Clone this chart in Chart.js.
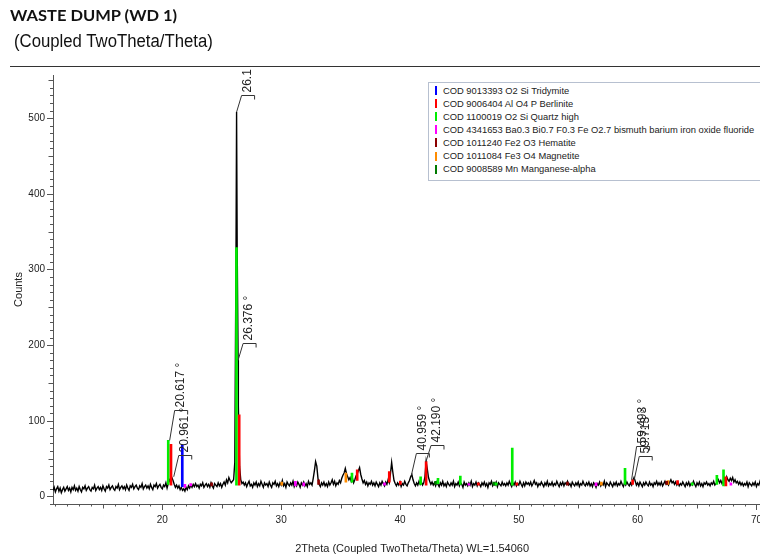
<!DOCTYPE html>
<html><head><meta charset="utf-8">
<script src="https://cdn.jsdelivr.net/npm/chart.js@4.4.0/dist/chart.umd.min.js"></script>
<style>
html,body{margin:0;padding:0;background:#fff;overflow:hidden;width:760px;height:559px;}
#wrap{position:relative;width:760px;height:559px;overflow:hidden;}
canvas{position:absolute;left:0;top:0;}
.t1{position:absolute;left:10px;top:8px;font:bold 15px Lato,'Open Sans',sans-serif;line-height:15px;color:#111;transform:scaleX(1.1);transform-origin:0 0;white-space:nowrap}
.t2{position:absolute;left:14px;top:32px;font:18px 'Liberation Sans',Arial,sans-serif;line-height:18px;color:#111;transform:scaleX(.93);transform-origin:0 0;white-space:nowrap}
.rule{position:absolute;left:10px;top:66px;width:760px;height:0;border-top:1.5px solid #333}
#legend{position:absolute;left:428px;top:82px;width:345px;height:99px;border:1px solid #b7c0d0;background:#fff;box-sizing:border-box;}
.li{position:absolute;left:14px;font:9.35px 'Liberation Sans',Arial,sans-serif;color:#222;white-space:nowrap;line-height:12px;height:12px}
.sw{position:absolute;left:-8.5px;top:1.5px;width:2.5px;height:9px}
</style></head>
<body>
<div id="wrap">
<canvas id="c" width="772" height="559" style="width:772px;height:559px"></canvas>
<div class="t1">WASTE DUMP (WD 1)</div>
<div class="t2">(Coupled TwoTheta/Theta)</div>
<div class="rule"></div>
<div id="legend"></div>
</div>
<script>
// ---- data ----
const xTickValues = [20, 30, 40, 50, 60, 70];
const yTickValues = [0, 100, 200, 300, 400, 500];

// measured pattern: counts on a 0.1 deg grid starting at 10.8 deg (one row = 1 deg)
const bgStart = 10.8, bgStep = 0.1;
const bgCounts = [
  8, 12, 6, 10, 13, 7, 11, 5, 9, 12,        // 10.8
  7, 10, 13, 8, 11, 6, 12, 9, 14, 8,        // 11.8
  11, 7, 13, 9, 6, 12, 10, 14, 8, 11,       // 12.8
  13, 9, 7, 12, 10, 15, 8, 11, 13, 9,       // 13.8
  12, 8, 14, 10, 7, 13, 11, 15, 9, 12,      // 14.8
  14, 10, 8, 13, 11, 16, 9, 12, 14, 10,     // 15.8
  13, 9, 15, 11, 8, 14, 12, 16, 10, 13,     // 16.8
  15, 11, 9, 14, 12, 17, 10, 13, 15, 11,    // 17.8
  14, 10, 16, 12, 9, 15, 13, 17, 11, 14,    // 18.8
  16, 12, 10, 15, 13, 18, 11, 17, 22, 19,   // 19.8
  25, 21, 16, 12, 15, 11, 14, 9, 12, 8,     // 20.8
  10, 7, 12, 9, 14, 11, 15, 12, 16, 13,     // 21.8
  17, 13, 15, 11, 16, 14, 18, 12, 15, 17,   // 22.8
  13, 16, 12, 18, 14, 11, 17, 15, 13, 18,   // 23.8
  14, 17, 12, 16, 19, 15, 22, 18, 25, 21,   // 24.8
  18, 20, 22, 45, 320, 330, 120, 40, 22, 17,// 25.8
  19, 15, 18, 13, 17, 20, 14, 16, 12, 18,   // 26.8
  15, 19, 13, 17, 14, 20, 16, 12, 18, 15,   // 27.8
  17, 13, 19, 15, 12, 18, 16, 20, 14, 17,   // 28.8
  13, 18, 15, 21, 14, 17, 12, 19, 16, 14,   // 29.8
  18, 15, 20, 13, 17, 14, 19, 16, 12, 18,   // 30.8
  15, 19, 14, 17, 13, 20, 16, 18, 15, 24,   // 31.8
  34, 46, 40, 24, 16, 13, 18, 15, 19, 14,   // 32.8
  17, 13, 19, 15, 18, 22, 16, 20, 14, 18,   // 33.8
  16, 21, 18, 24, 28, 31, 37, 30, 26, 22,   // 34.8
  25, 20, 24, 18, 22, 27, 30, 34, 38, 29,   // 35.8
  23, 18, 21, 16, 19, 14, 18, 16, 20, 15,   // 36.8
  18, 14, 19, 16, 13, 18, 15, 20, 17, 14,   // 37.8
  19, 16, 22, 18, 30, 45, 32, 21, 17, 14,   // 38.8
  18, 15, 19, 13, 17, 15, 20, 16, 14, 18,   // 39.8
  21, 26, 29, 22, 17, 14, 18, 15, 20, 16,   // 40.8
  19, 15, 18, 26, 46, 36, 25, 20, 16, 19,   // 41.8
  15, 18, 14, 19, 16, 13, 18, 15, 20, 14,   // 42.8
  17, 13, 19, 16, 14, 18, 15, 20, 13, 17,   // 43.8
  15, 19, 14, 18, 16, 12, 19, 15, 17, 14,   // 44.8
  18, 15, 20, 13, 17, 15, 19, 14, 18, 16,   // 45.8
  13, 18, 15, 19, 14, 17, 12, 18, 16, 20,   // 46.8
  14, 17, 15, 19, 13, 18, 16, 14, 19, 15,   // 47.8
  17, 14, 18, 15, 20, 16, 13, 18, 15, 19,   // 48.8
  14, 17, 15, 20, 16, 13, 18, 14, 19, 16,   // 49.8
  18, 15, 19, 14, 17, 21, 16, 18, 13, 17,   // 50.8
  15, 19, 16, 13, 18, 15, 20, 14, 17, 15,   // 51.8
  19, 14, 17, 15, 20, 16, 13, 18, 15, 19,   // 52.8
  14, 18, 16, 20, 15, 17, 13, 19, 16, 14,   // 53.8
  18, 15, 19, 13, 17, 15, 20, 16, 14, 18,   // 54.8
  15, 19, 14, 17, 13, 18, 16, 12, 17, 15,   // 55.8
  19, 14, 17, 15, 20, 13, 18, 16, 14, 19,   // 56.8
  16, 13, 18, 15, 19, 14, 17, 15, 20, 16,   // 57.8
  13, 18, 15, 19, 16, 14, 18, 15, 21, 25,   // 58.8
  20, 15, 18, 14, 19, 16, 13, 18, 15, 19,   // 59.8
  16, 14, 19, 15, 17, 13, 18, 16, 20, 15,   // 60.8
  18, 15, 19, 14, 17, 20, 16, 18, 15, 19,   // 61.8
  22, 18, 20, 16, 19, 15, 18, 14, 17, 15,   // 62.8
  19, 16, 13, 18, 15, 19, 14, 17, 15, 20,   // 63.8
  16, 13, 18, 15, 19, 14, 17, 13, 18, 16,   // 64.8
  19, 15, 17, 14, 18, 16, 20, 15, 17, 19,   // 65.8
  22, 18, 21, 17, 20, 24, 19, 26, 22, 20,   // 66.8
  24, 21, 25, 19, 22, 18, 20, 16, 19, 15,   // 67.8
  18, 14, 17, 15, 19, 13, 18, 16, 14, 18,   // 68.8
  15, 19, 13, 17, 15, 20, 14, 18, 16, 13,   // 69.8
  18, 15, 19, 16, 14                        // 70.8
];
// extra points resolving the main quartz peak
const peakTwoTheta = [26.25, 26.38];
const peakCounts   = [508, 180];

// reference sticks per phase: [2theta, start count, end count]
const phaseNames = [
  'COD 9013393 O2 Si Tridymite',
  'COD 9006404 Al O4 P Berlinite',
  'COD 1100019 O2 Si Quartz high',
  'COD 4341653 Ba0.3 Bi0.7 F0.3 Fe O2.7 bismuth barium iron oxide fluoride',
  'COD 1011240 Fe2 O3 Hematite',
  'COD 1011084 Fe3 O4 Magnetite',
  'COD 9008589 Mn Manganese-alpha'
];
const tridymiteSticks = [[21.68, 13, 68]];
const berliniteSticks = [[20.73, 15, 69], [26.47, 15, 108], [36.40, 21, 35], [39.10, 19, 33], [40.03, 16, 20],
  [42.20, 15, 46], [46.60, 15, 18], [49.83, 15, 18], [59.58, 16, 22], [63.36, 16, 21], [67.43, 14, 26]];
const quartzSticks = [[20.50, 16, 74], [26.24, 15, 329], [35.96, 19, 31], [41.74, 16, 26], [43.20, 17, 24],
  [45.08, 16, 27], [48.10, 15, 18], [49.45, 15, 64], [58.94, 16, 37], [64.60, 15, 18], [66.67, 16, 28], [67.23, 14, 35]];
const bismuthSticks = [[21.90, 12, 16], [22.39, 14, 17], [31.20, 14, 20], [31.90, 14, 18], [38.70, 15, 18],
  [45.80, 15, 17], [56.50, 14, 18], [67.85, 15, 18]];
const hematiteSticks = [[24.15, 14, 18], [33.15, 16, 22], [54.10, 15, 19], [62.45, 16, 20]];
const magnetiteSticks = [[30.05, 15, 19], [35.45, 19, 31], [56.95, 15, 19], [62.55, 16, 21]];
const manganeseSticks = [[43.00, 16, 20], [47.90, 15, 19]];

// peak annotations
const labelText     = ['26.1', '26.376 °', '20.617 °', '20.961 °', '40.959 °', '42.190 °', '59.493 °', '59.713 °'];
const labelTwoTheta = [26.25, 26.376, 20.617, 20.961, 40.959, 42.190, 59.493, 59.713];
const labelCount    = [508, 180, 74, 26, 28, 46, 22, 22];
const labelLeader   = [530, 203, 114, 55, 57, 68, 66, 53];

// ---- styles ----
const phaseColors = ['#0000ff', '#ff0000', '#00ee00', '#ff00ff', '#8b0000', '#ff8c00', '#007a00'];
const FONT = "'Liberation Sans', Arial, sans-serif";

const lineData = [];
bgCounts.forEach((c, i) => lineData.push({x: +(bgStart + i * bgStep).toFixed(2), y: c}));
peakTwoTheta.forEach((t, i) => lineData.push({x: t, y: peakCounts[i]}));
lineData.sort((a, b) => a.x - b.x);

const stickSets = [tridymiteSticks, berliniteSticks, quartzSticks, bismuthSticks, hematiteSticks, magnetiteSticks, manganeseSticks];
const datasets = [{
  type: 'line', label: 'WD 1', data: lineData, borderColor: '#000', borderWidth: 1.4,
  pointRadius: 0, tension: 0, fill: false, order: 2
}];
stickSets.forEach((s, k) => datasets.push({
  type: 'bar', label: phaseNames[k], data: s.map(p => ({x: p[0], y: [p[1], p[2]]})),
  backgroundColor: phaseColors[k], borderWidth: 0, barThickness: 2, grouped: false, order: 1
}));

// legend (HTML)
const lg = document.getElementById('legend');
phaseNames.forEach((n, k) => {
  const d = document.createElement('div');
  d.className = 'li';
  d.style.top = (1.5 + 13.1 * k) + 'px';
  d.innerHTML = '<span class="sw" style="background:' + phaseColors[k] + '"></span>' + n;
  lg.appendChild(d);
});

const decor = {
  id: 'decor',
  afterDraw(chart) {
    const {ctx, chartArea: a, scales: {x, y}} = chart;
    ctx.save();
    ctx.strokeStyle = '#555'; ctx.lineWidth = 1;
    ctx.beginPath();
    for (let v = Math.ceil(x.min); v <= x.max; v++) {
      const px = Math.round(x.getPixelForValue(v)) + 0.5;
      const len = v % 10 === 0 ? 6 : (v % 5 === 0 ? 4.5 : 2.5);
      ctx.moveTo(px, a.bottom); ctx.lineTo(px, a.bottom + len);
    }
    for (let v = Math.ceil(y.min / 10) * 10; v <= y.max; v += 10) {
      const py = Math.round(y.getPixelForValue(v)) + 0.5;
      const len = v % 100 === 0 ? 6 : (v % 50 === 0 ? 4.5 : 3);
      ctx.moveTo(a.left - len, py); ctx.lineTo(a.left, py);
    }
    ctx.stroke();
    ctx.strokeStyle = '#333'; ctx.fillStyle = '#222';
    ctx.font = '12px ' + FONT;
    labelText.forEach((t, i) => {
      const ax = x.getPixelForValue(labelTwoTheta[i]);
      const ay = y.getPixelForValue(labelCount[i]);
      const hy = Math.round(y.getPixelForValue(labelLeader[i])) + 0.5;
      ctx.beginPath();
      ctx.moveTo(ax, ay); ctx.lineTo(ax + 5, hy); ctx.lineTo(ax + 18, hy); ctx.lineTo(ax + 18, hy + 4);
      ctx.stroke();
      ctx.save();
      ctx.translate(ax + 11, hy - 3);
      ctx.rotate(-Math.PI / 2);
      ctx.textAlign = 'left'; ctx.textBaseline = 'middle';
      ctx.fillText(t, 0, 0);
      ctx.restore();
    });
    ctx.restore();
  }
};

new Chart(document.getElementById('c'), {
  type: 'bar',
  data: {datasets},
  options: {
    responsive: false, animation: false, devicePixelRatio: 1,
    layout: {padding: {top: 75, left: 0, right: 0, bottom: 0}},
    plugins: {legend: {display: false}, tooltip: {enabled: false}, title: {display: false}},
    scales: {
      x: {
        type: 'linear', position: 'bottom', min: 10.8, max: 71.24, offset: false,
        grid: {display: false, drawOnChartArea: false, drawTicks: false, offset: false},
        border: {display: true, color: '#555', width: 1},
        afterBuildTicks: s => { s.ticks = xTickValues.map(v => ({value: v})); },
        afterFit: s => { s.height = 55; },
        ticks: {padding: 10, color: '#222', maxRotation: 0, autoSkip: false, font: {family: FONT, size: 10}},
        title: {display: true, text: '2Theta (Coupled TwoTheta/Theta) WL=1.54060', color: '#222',
          font: {family: FONT, size: 11}, padding: {top: 0, bottom: 3}}
      },
      y: {
        type: 'linear', position: 'left', min: -10, max: 557,
        grid: {display: false, drawOnChartArea: false, drawTicks: false},
        border: {display: true, color: '#555', width: 1},
        afterBuildTicks: s => { s.ticks = yTickValues.map(v => ({value: v})); },
        afterFit: s => { s.width = 53; },
        ticks: {padding: 8, color: '#222', font: {family: FONT, size: 10}},
        title: {display: true, text: 'Counts', color: '#222', font: {family: FONT, size: 11},
          padding: {top: 12, bottom: 0}}
      }
    }
  },
  plugins: [decor]
});
</script>
</body></html>
